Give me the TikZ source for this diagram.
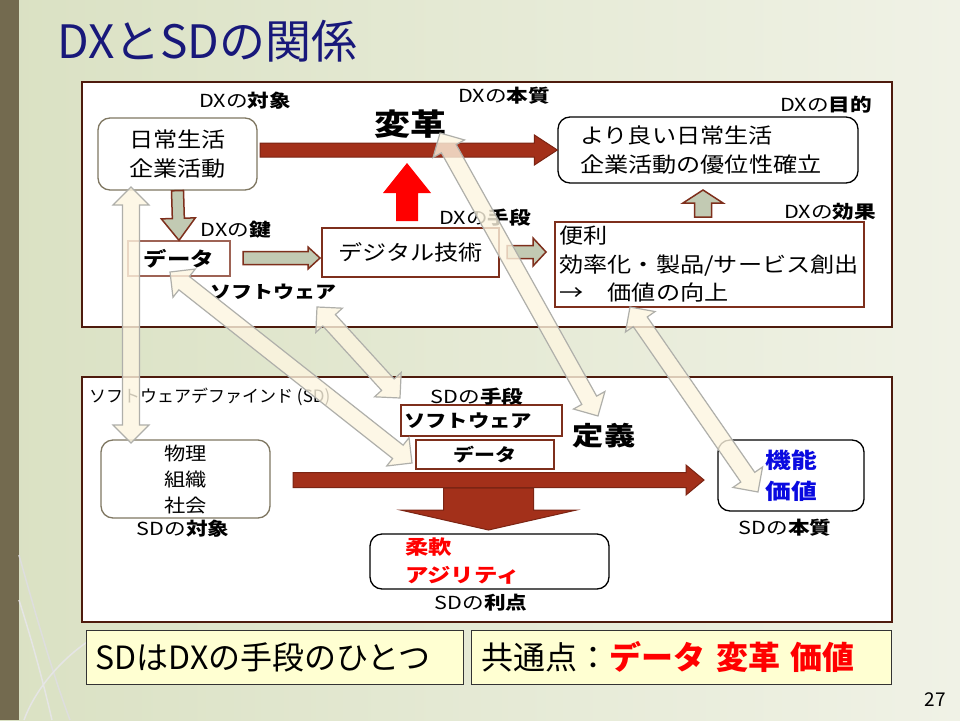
\documentclass[tikz,border=0pt]{standalone}
\usepackage{fontspec}
\setmainfont{Noto Sans CJK JP}
\newfontfamily\widejp{Noto Sans CJK JP}[FakeStretch=1.2]
\newfontfamily\boxjp{Noto Sans CJK JP}[FakeStretch=1.15]
\usetikzlibrary{calc}

\definecolor{slidebar}{HTML}{736A4F}
\definecolor{bgleft}{HTML}{DAE1C3}
\definecolor{bgright}{HTML}{F0F2E6}
\definecolor{titleblue}{HTML}{18187A}
\definecolor{panelline}{HTML}{4E1B0D}
\definecolor{boxline}{HTML}{7E2F1C}
\definecolor{softline}{HTML}{7F7762}
\definecolor{rust}{HTML}{A3301A}
\definecolor{rustline}{HTML}{7B2413}
\definecolor{sage}{HTML}{C2CAB3}
\definecolor{cream}{HTML}{FDF5E0}
\definecolor{creamline}{HTML}{AFAFAA}
\definecolor{notebg}{HTML}{FFFFD2}
\definecolor{valueblue}{HTML}{0A0AE0}

\tikzset{
  panel/.style={draw=panelline, line width=2pt, fill=white},
  plainbox/.style={draw=boxline, line width=1.3pt, fill=white, inner sep=0pt},
  roundbox/.style={draw=softline, line width=1.3pt, rounded corners=12pt, fill=white, inner sep=0pt},
  blackbox/.style={draw=black, line width=1.3pt, rounded corners=12pt, fill=white, inner sep=0pt},
  notebox/.style={draw=black!80, line width=1pt, fill=notebg, inner sep=0pt},
  role/.style={font=\widejp\fontsize{18}{20}\selectfont, inner sep=0pt},
  boxtext/.style={font=\boxjp\fontsize{21}{28.5}\selectfont},
  rustarrow/.style={fill=rust, draw=rustline, line width=1pt},
  sagearrow/.style={fill=sage, draw=boxline, line width=1.5pt},
  redarrow/.style={fill=red},
  linkarrow/.style={fill=cream, draw=creamline, line width=1.2pt, fill opacity=0.8},
}

% #1 style, #2 from, #3 to, #4 half shaft, #5 half head, #6 head length
\newcommand{\blockarrow}[6][]{%
  \path[#1] let \p1=($(#3)-(#2)$), \n1={atan2(\y1,\x1)}, \n2={veclen(\x1,\y1)} in
    [shift={(#2)}, rotate=\n1]
    (0,#4) -- ({\n2-#6},#4) -- ({\n2-#6},#5) -- ({\n2},0) -- ({\n2-#6},-#5)
    -- ({\n2-#6},-#4) -- (0,-#4) -- cycle;}
\newcommand{\twowayarrow}[6][]{%
  \path[#1] let \p1=($(#3)-(#2)$), \n1={atan2(\y1,\x1)}, \n2={veclen(\x1,\y1)} in
    [shift={(#2)}, rotate=\n1]
    (0,0) -- (#6,#5) -- (#6,#4) -- ({\n2-#6},#4) -- ({\n2-#6},#5) -- ({\n2},0)
    -- ({\n2-#6},-#5) -- ({\n2-#6},-#4) -- (#6,-#4) -- (#6,-#5) -- cycle;}
\newcommand{\rolelabel}[2]{#1の\textbf{#2}}

\begin{document}
\begin{tikzpicture}[x=1pt, y=-1pt]
    \useasboundingbox (0,0) rectangle (960,720);
    \shade[left color=bgleft, right color=bgright] (0,0) rectangle (960,720);
    \fill[slidebar] (0,0) rectangle (19,720);
    \draw[black!13, line width=1.5pt] (19,555) .. controls (40,630) and (55,680) .. (70,720);
    \draw[black!10, line width=1.5pt] (19,600) .. controls (35,650) and (45,690) .. (52,720);
    \draw[black!10, line width=1.5pt] (90,640) .. controls (60,660) and (35,690) .. (24,720);

    \node[anchor=west, inner sep=0pt, text=titleblue, font=\fontsize{46}{46}\selectfont] (title) at (57,41) {DXとSDの関係};

    \draw[panel] (82,82) rectangle (892,327);
    \draw[panel] (82,377) rectangle (892,622);

    % DX
    \node[roundbox, boxtext, align=center, minimum width=159, minimum height=72] (life) at (177.5,154) {日常生活\\企業活動};
    \node[blackbox, boxtext, align=left, inner xsep=22, text width=256, minimum height=66] (goal) at (708,150) {より良い日常生活\\企業活動の優位性確立};
    \node[plainbox, draw=boxline!75, minimum width=102, minimum height=35, font=\widejp\fontsize{19.5}{20}\selectfont\bfseries] (data) at (179,258.5) {データ};
    \node[plainbox, boxtext, minimum width=177, minimum height=49] (digital) at (410.5,252.5) {デジタル技術};
    \node[plainbox, boxtext, align=left, inner xsep=4.5, text width=300, minimum height=85] (effect) at (709.5,264.5) {便利\\効率化・製品/サービス創出\\→　価値の向上};
    \node[inner sep=0pt, font=\widejp\fontsize{30}{30}\selectfont\bfseries] (reform) at (410,124) {変革};
    \node[role, font=\widejp\fontsize{17.5}{20}\selectfont\bfseries] (swlabel) at (273,292) {ソフトウェア};

    % SD
    \node[anchor=west, inner sep=0pt, font=\fontsize{17}{17}\selectfont] (sdtitle) at (89,397) {ソフトウェアデファインド (SD)};
    \node[roundbox, align=center, minimum width=169, minimum height=78, font=\boxjp\fontsize{18.5}{26}\selectfont] (sdtarget) at (185.5,479) {物理\\組織\\社会};
    \node[plainbox, align=left, inner xsep=3, text width=155, minimum height=31, font=\widejp\fontsize{17.8}{20}\selectfont\bfseries] (sdsw) at (481.5,420.5) {ソフトウェア};
    \node[plainbox, minimum width=138, minimum height=29, font=\widejp\fontsize{17.5}{20}\selectfont\bfseries] (sddata) at (485,454.5) {データ};
    \node[inner sep=0pt, font=\widejp\fontsize{26}{26}\selectfont\bfseries] (define) at (604,436) {定義};
    \node[blackbox, align=center, minimum width=146, minimum height=71, text=valueblue, font=\widejp\fontsize{21.5}{31}\selectfont\bfseries] (value) at (791,475.5) {機能\\価値};
    \node[blackbox, align=left, inner xsep=35, text width=169, minimum height=55, text=red, font=\widejp\fontsize{19.5}{28}\selectfont\bfseries] (merit) at (489.5,561.5) {柔軟\\アジリティ};

    \foreach \x/\y/\who/\what [count=\i] in {245/101/DX/対象, 504/96/DX/本質, 826/105/DX/目的, 236/230/DX/鍵, 485/218/DX/手段, 830/212/DX/効果, 477/397/SD/手段, 183/529/SD/対象, 785/528/SD/本質, 481/603/SD/利点}{
        \node[role] (role\i) at (\x,\y) {\rolelabel{\who}{\what}};
    }

    \node[notebox, anchor=west, align=left, inner xsep=9, text width=359, minimum height=54, font=\fontsize{32}{32}\selectfont] (note1) at (86,657) {SDはDXの手段のひとつ};
    \node[notebox, anchor=west, align=left, inner xsep=10, text width=400, minimum height=54, font=\fontsize{32}{32}\selectfont] (note2) at (471,657) {共通点：\textcolor{red}{\textbf{データ 変革 価値}}};
    \node[inner sep=0pt, font=\fontsize{19}{19}\selectfont] (pagenum) at (935,700) {27};

    % block arrows
    \coordinate (reformfrom) at (260,150);
    \coordinate (techbase) at (407,221);
    \coordinate (techtop) at (407,163);
    \coordinate (keyfrom) at (243,258);
    \coordinate (keyto) at (320,258);
    \coordinate (meansfrom) at (507,252);
    \coordinate (meansto) at (546,252);
    \coordinate (effectfrom) at (703,217);
    \coordinate (effectto) at (703,190);
    \coordinate (sdfrom) at (293,480);
    \coordinate (sdto) at (704,480);
    \coordinate (meritfrom) at (488.5,488);
    \coordinate (meritto) at (488.5,530);

    \blockarrow[rustarrow]{reformfrom}{goal.west}{7}{15}{23}
    \blockarrow[redarrow]{techbase}{techtop}{11}{24}{30}
    \blockarrow[sagearrow]{life.south}{data.north}{6}{17}{22}
    \blockarrow[sagearrow]{keyfrom}{keyto}{6.5}{11}{12}
    \blockarrow[sagearrow]{meansfrom}{meansto}{6.5}{14}{13}
    \blockarrow[sagearrow]{effectfrom}{effectto}{8.5}{20}{13}
    \blockarrow[rustarrow]{sdfrom}{sdto}{7.5}{15}{18}
    \blockarrow[rustarrow]{meritfrom}{meritto}{45}{88}{20}

    % links between DX and SD
    \coordinate (l1a) at (131,187);
    \coordinate (l1b) at (131,443);
    \coordinate (l2a) at (170,272);
    \coordinate (l2b) at (412,463);
    \coordinate (l3a) at (317,307);
    \coordinate (l3b) at (400,398);
    \coordinate (l4a) at (440,133);
    \coordinate (l4b) at (598,416);
    \coordinate (l5a) at (630,307);
    \coordinate (l5b) at (758,492);
    \foreach \a/\b in {l1a/l1b, l2a/l2b, l3a/l3b, l4a/l4b, l5a/l5b}{
        \twowayarrow[linkarrow]{\a}{\b}{8.5}{18}{18}
    }
\end{tikzpicture}
\end{document}
